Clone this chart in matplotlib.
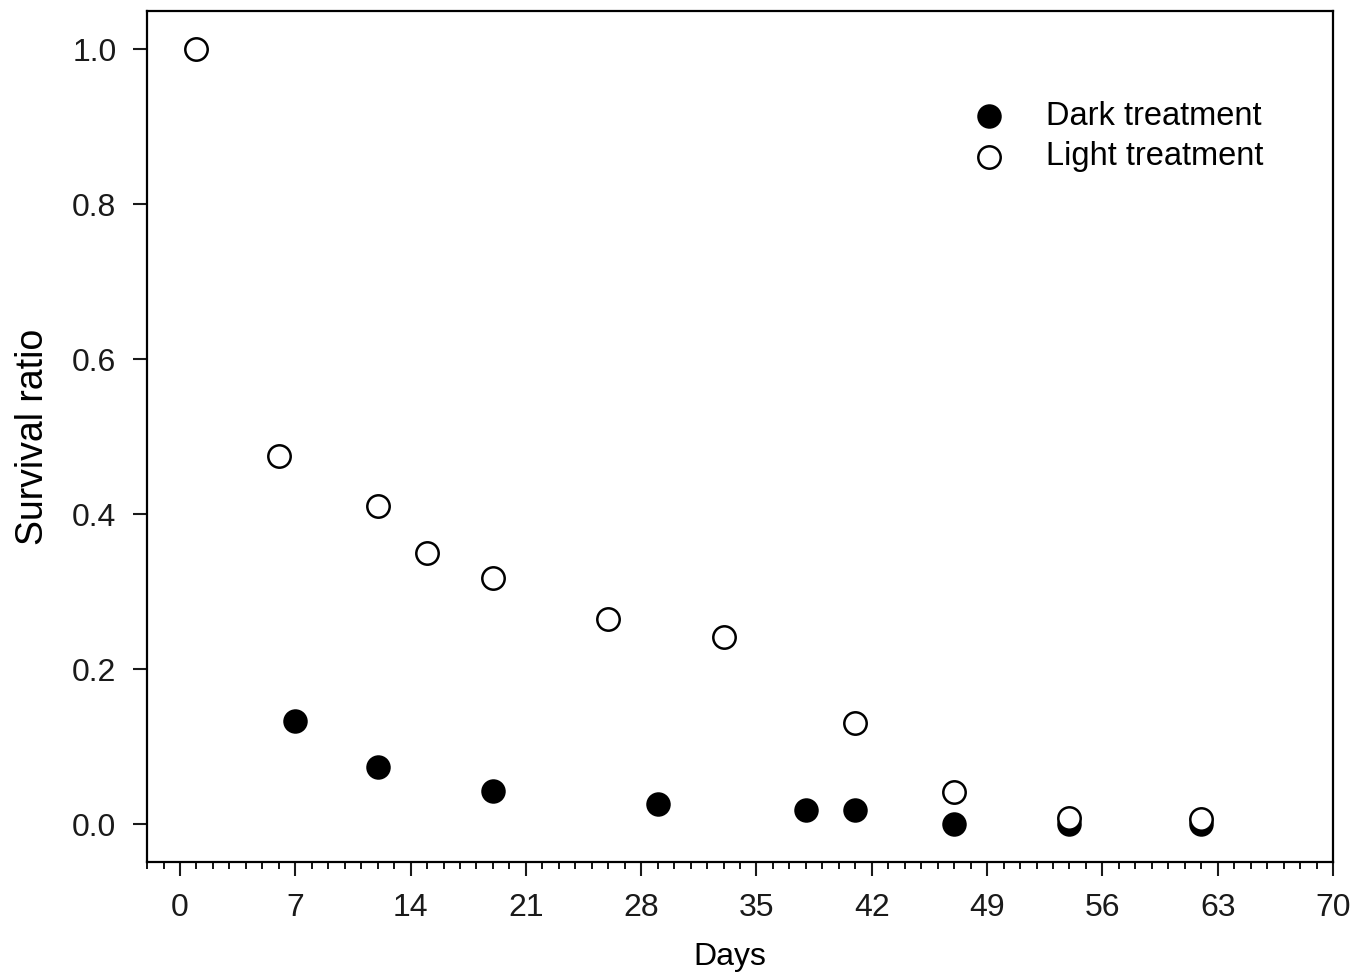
import numpy as np
import matplotlib.pyplot as plt
from matplotlib.ticker import MultipleLocator

plt.rcParams['font.family'] = ['Liberation Sans', 'DejaVu Sans']

dark_days = [7, 12, 19, 29, 38, 41, 47, 54, 62]
dark_surv = [0.133, 0.073, 0.042, 0.026, 0.018, 0.018, 0.0, 0.0, 0.0]

light_days = [1, 6, 12, 15, 19, 26, 33, 41, 47, 54, 62]
light_surv = [1.0, 0.475, 0.41, 0.35, 0.318, 0.264, 0.241, 0.131, 0.041, 0.008, 0.006]

fig = plt.figure(figsize=(13.69, 9.77), dpi=100)
ax = fig.add_axes([0.1074, 0.1177, 0.8663, 0.871])

ax.scatter(dark_days, dark_surv, s=260, c='black', edgecolors='black', linewidths=1.5,
           label='Dark treatment', zorder=3)
ax.scatter(light_days, light_surv, s=260, c='white', edgecolors='black', linewidths=1.8,
           label='Light treatment', zorder=4)

ax.set_xlim(-2, 70)
ax.set_ylim(-0.049, 1.049)
ax.xaxis.set_major_locator(MultipleLocator(7))
ax.xaxis.set_minor_locator(MultipleLocator(1))
ax.yaxis.set_major_locator(MultipleLocator(0.2))
ax.yaxis.set_major_formatter(plt.FormatStrFormatter('%.1f'))

ax.tick_params(axis='both', which='major', direction='out', length=10, width=1.5,
               labelsize=23, pad=12, colors='#1a1a1a')
ax.tick_params(axis='x', which='minor', direction='out', length=5, width=1.3)
for s in ax.spines.values():
    s.set_linewidth(1.6)

ax.set_xlabel('Days', fontsize=23, labelpad=14)
ax.xaxis.label.set_x(0.491)
ax.set_ylabel('Survival ratio', fontsize=27, labelpad=15)

ax.legend(loc='upper left', bbox_to_anchor=(0.678, 0.91), frameon=False, fontsize=23.5,
          handletextpad=1.0, labelspacing=0.3, borderaxespad=0, handlelength=1.5)

fig.savefig('out.png', dpi=100)
